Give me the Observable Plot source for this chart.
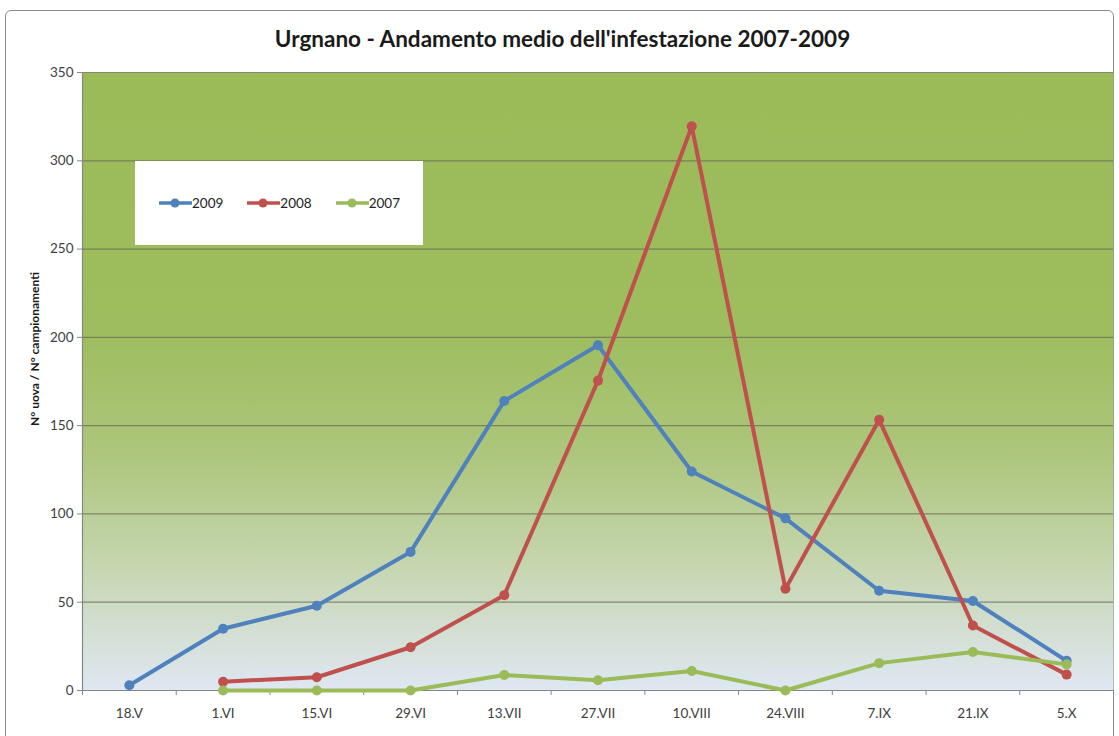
<!DOCTYPE html>
<html>
<head>
<meta charset="utf-8">
<script src="https://cdn.jsdelivr.net/npm/d3@7"></script>
<script src="https://cdn.jsdelivr.net/npm/@observablehq/plot@0.6"></script>
<style>
  body { margin: 0; background: #fff; font-family: Lato, "Open Sans", sans-serif; }
  #wrap { position: relative; width: 1119px; height: 736px; overflow: hidden; }
  #border { position: absolute; left: 5px; top: 10px; width: 1109px; height: 740px; border: 1.5px solid #8c8c8c; border-radius: 6px; box-sizing: border-box; }
  #title { position: absolute; left: 0; width: 1125px; top: 25px; text-align: center; font-weight: bold; font-size: 22.5px; color: #1a1a1a; }
  #legend { position: absolute; left: 135px; top: 161px; width: 288px; height: 84px; background: #fff; display: flex; align-items: center; padding-left: 23px; box-sizing: border-box; font-size: 13.5px; color: #222; }
  .item { display: flex; align-items: center; margin-right: 23px; }
  #plot { position: absolute; left: 0; top: 0; }
</style>
</head>
<body>
<div id="wrap">
  <div id="border"></div>
  <div id="plot"></div>
  <div id="title">Urgnano - Andamento medio dell'infestazione 2007-2009</div>
  <div id="legend"></div>
</div>
<script>
const categories = ["18.V","1.VI","15.VI","29.VI","13.VII","27.VII","10.VIII","24.VIII","7.IX","21.IX","5.X"];
const s2009 = [3, 35, 48, 78.5, 164, 195.5, 124, 97.5, 56.5, 50.7, 16.8];
const s2008 = [null, 5, 7.5, 24.5, 54, 175.5, 319.5, 57.6, 153.3, 36.8, 9];
const s2007 = [null, 0, 0, 0, 8.8, 5.8, 11, 0, 15.5, 21.8, 14.8];
const seriesNames = ["2009", "2008", "2007"];
const seriesColors = ["#4f81bd", "#c0504d", "#9bbb59"];
const yTicks = [0, 50, 100, 150, 200, 250, 300, 350];
const yLabel = "N° uova / N° campionamenti";

const seriesValues = [s2009, s2008, s2007];
const data = [];
seriesNames.forEach((name, si) => {
  seriesValues[si].forEach((v, i) => {
    if (v !== null) data.push({series: name, idx: i + 0.5, value: v});
  });
});
const catPos = categories.map((c, i) => i + 0.5);
const boundaries = d3.range(0, categories.length + 1);

const chart = Plot.plot({
  width: 1119,
  height: 736,
  marginLeft: 82,
  marginRight: 6,
  marginTop: 72,
  marginBottom: 46,
  style: { fontFamily: "Lato, 'Open Sans', sans-serif", fontSize: "13px", color: "#404040", background: "transparent" },
  x: { domain: [0, categories.length], axis: null },
  y: { domain: [0, 350], axis: null },
  color: { domain: seriesNames, range: seriesColors },
  marks: [
    Plot.frame({ fill: "url(#bggrad)", stroke: null }),
    Plot.ruleY(yTicks.filter(d => d > 0), { stroke: "#6b6b5a", strokeOpacity: 0.75, strokeWidth: 1.2 }),
    Plot.ruleX([0], { stroke: "#868686", strokeWidth: 1.2 }),
    Plot.ruleY([0], { stroke: "#868686", strokeWidth: 1.2 }),
    Plot.axisY({ ticks: yTicks, tickSize: 5, tickPadding: 4, stroke: "#868686", fontSize: 13.5, fill: "#404040", label: null }),
    Plot.axisX({ ticks: boundaries, tickSize: 5, tickFormat: () => "", stroke: "#868686", label: null }),
    Plot.axisX({ ticks: catPos, tickSize: 0, tickPadding: 18, tickFormat: d => categories[Math.round(d - 0.5)], fontSize: 13.5, fill: "#404040", label: null }),
    Plot.line(data, { x: "idx", y: "value", z: "series", stroke: "series", strokeWidth: 4, strokeLinejoin: "round", curve: "linear" }),
    Plot.dot(data, { x: "idx", y: "value", fill: "series", r: 5, stroke: null })
  ]
});

const defs = d3.select(chart).insert("defs", ":first-child");
const grad = defs.append("linearGradient").attr("id", "bggrad").attr("x1", 0).attr("y1", 0).attr("x2", 0).attr("y2", 1);
[["0%", "#9bbb59"], ["42%", "#9ebd5e"], ["62%", "#adc67c"], ["80%", "#c6d6b0"], ["100%", "#dfe7f3"]].forEach(([o, c]) => grad.append("stop").attr("offset", o).attr("stop-color", c));

d3.select(chart).append("text")
  .attr("transform", "translate(36,349) rotate(-90)")
  .attr("text-anchor", "middle")
  .attr("dominant-baseline", "middle")
  .attr("font-weight", "bold")
  .attr("font-size", 12)
  .attr("fill", "#1a1a1a")
  .text(yLabel);

document.getElementById("plot").appendChild(chart);

const legend = document.getElementById("legend");
seriesNames.forEach((name, i) => {
  const item = document.createElement("div");
  item.className = "item";
  item.innerHTML = `<svg width="34" height="12"><line x1="1" y1="6" x2="34" y2="6" stroke="${seriesColors[i]}" stroke-width="3.5"/><circle cx="17" cy="6" r="4.5" fill="${seriesColors[i]}"/></svg><span>${name}</span>`;
  legend.appendChild(item);
});
</script>
</body>
</html>
